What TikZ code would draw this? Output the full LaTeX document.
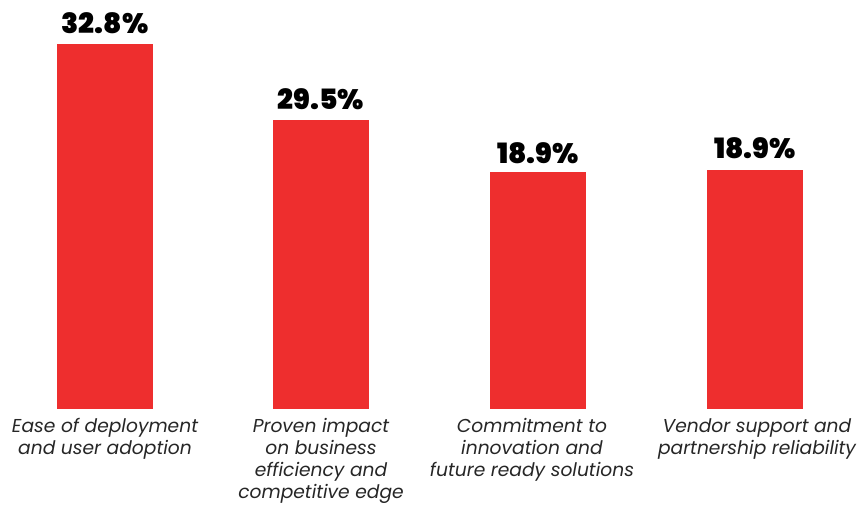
\documentclass[tikz,border=0pt]{standalone}
\usepackage{fontspec}
\setmainfont{Poppins}
\newfontfamily\pctfont{Poppins Black}
\usepackage{xcolor}
\usepackage{tikz}
\usetikzlibrary{positioning}
\definecolor{barred}{RGB}{238,46,46}

\begin{document}
\begin{tikzpicture}[x=0.75pt,y=-0.75pt,
  bar/.style={fill=barred,draw=none},
  pct/.style={font=\pctfont\fontsize{21}{25}\selectfont,inner sep=0pt},
  lbl/.style={font=\itshape\fontsize{14}{16.5}\selectfont,align=center,inner sep=0pt,anchor=north,text=black!85}]
\useasboundingbox (0,0) rectangle (860,504);
% Bars
\fill[bar] (57,44) rectangle (153,409);
\fill[bar] (273,120) rectangle (369,409);
\fill[bar] (490,172) rectangle (586,409);
\fill[bar] (707,170) rectangle (803,409);
% Values
\node[pct] (v1) at (105,23) {32.8\%};
\node[pct] (v2) at (321,99) {29.5\%};
\node[pct] (v3) at (538,153) {18.9\%};
\node[pct] (v4) at (755,148) {18.9\%};
% Category labels
\node[lbl] (c1) at (105,418) {Ease of deployment\\and user adoption};
\node[lbl] (c2) at (321,418) {Proven impact\\on business\\efficiency and\\competitive edge};
\node[lbl] (c3) at (532,418) {Commitment to\\innovation and\\future ready solutions};
\node[lbl] (c4) at (757,418) {Vendor support and\\partnership reliability};
\end{tikzpicture}
\end{document}
